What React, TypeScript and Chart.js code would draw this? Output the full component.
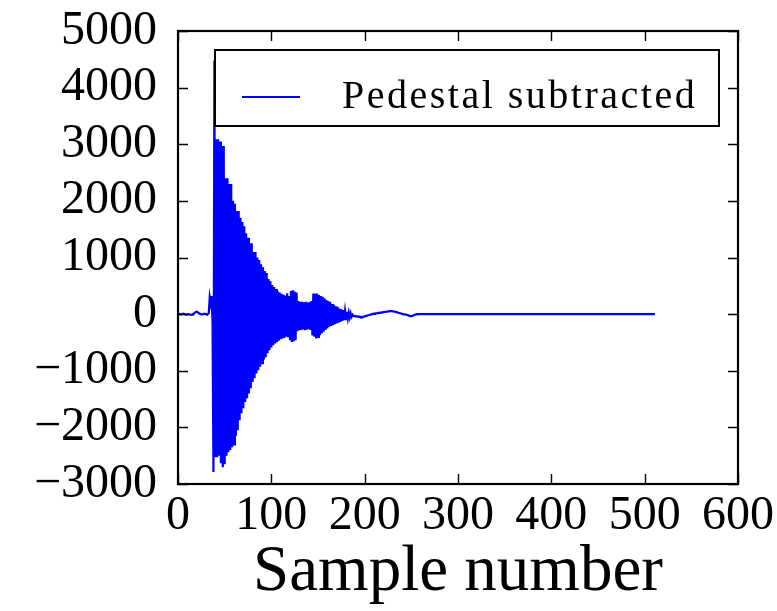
import React, { useEffect, useRef } from "react";
import { Chart, registerables } from "chart.js";

Chart.register(...registerables);

// ---- data ----
const seriesLabel = "Pedestal subtracted";
const xTitle = "Sample number";

// samples 0..33 (before the trigger)
const preTrigger = [
  0, 5, 3, -3, 0, 5, 8, 3, -5, -8, -5, 0, -3, -12, -15, -8, 0, 10, 25, 40,
  45, 35, 20, 10, 0, -5, -3, 0, 5, 3, 0, -5, 0, 20,
];

// samples 34..186 (ring-down)
const ringdown = [
  300, 200, 320, -150, -2790, 4480,
  -2527, 3090, -2527, 3090, -2500, 3050, -2633, 2970, -2703, 2970,
  -2650, 2400, -2500, 2400, -2438, 2300, -2400, 2300, -2350, 2000,
  -2300, 1950, -2150, 1820, -2049, 1820, -1873, 1700, -1750, 1625,
  -1661, 1550, -1550, 1430, -1484, 1350, -1400, 1250, -1307, 1250,
  -1200, 1095, -1131, 1095, -1050, 1000, -989, 954, -930, 880,
  -866, 830, -800, 760, -760, 724, -690, 618, -636, 580,
  -590, 512, -548, 480, -520, 442, -495, 400, -470, 380,
  -442, 360, -430, 340, -420, 330, -400, 370, -410, 320,
  -440, 410, -490, 420, -480, 400, -460, 380, -300, 230,
  -283, 220, -280, 217, -270, 210, -283, 217, -275, 205,
  -265, 215, -280, 230, -375, 365, -401, 365, -430, 365,
  -400, 336, -371, 320, -340, 306, -312, 280, -280, 247,
  -253, 230, -224, 217, -210, 180, -194, 159, -180, 140,
  -165, 129, -150, 100, -136, 85, -120, 71, -106, 55,
  -90, 41, -77, 25, -60, 12, -47,
];

// samples 187..256 (slow baseline drift)
const baselineDrift = [
  -10, -30, -35, -40, -35, -45, -40, -50, -45, -55, -50, -55, -45, -40, -35, -30,
  -25, -20, -15, -10, -5, 0, 5, 10, 8, 15, 12, 20, 18, 25, 22, 30, 28, 35, 38, 40,
  42, 45, 48, 50, 52, 53, 52, 50, 48, 45, 40, 35, 30, 25, 20, 15, 10, 5, 0, -3,
  -5, -8, -12, -18, -25, -30, -35, -35, -30, -25, -15, -8, -3, 0,
];

// flat tail
const tailSamples = [300, 350, 400, 450, 511];
const tailValues = [0, 0, 0, 0, 0];

const xMin = 0;
const xMax = 600;
const xStep = 100;
const yMin = -3000;
const yMax = 5000;
const yStep = 1000;

const SERIF = "'Liberation Serif', 'Times New Roman', serif";

function buildPoints() {
  const head = [...preTrigger, ...ringdown, ...baselineDrift];
  const pts = head.map((v, i) => ({ x: i, y: v }));
  tailSamples.forEach((s, i) => pts.push({ x: s, y: tailValues[i] }));
  return pts;
}

const framePlugin = {
  id: "frameTicks",
  afterDatasetsDraw(chart: any) {
    const { ctx, chartArea: a, scales } = chart;
    const tl = 10;
    ctx.save();
    ctx.strokeStyle = "#000";
    ctx.lineWidth = 1.4;
    ctx.beginPath();
    scales.x.ticks.forEach((t: any) => {
      const px = Math.round(scales.x.getPixelForValue(t.value)) + 0.5;
      ctx.moveTo(px, a.bottom);
      ctx.lineTo(px, a.bottom - tl);
      ctx.moveTo(px, a.top);
      ctx.lineTo(px, a.top + tl);
    });
    scales.y.ticks.forEach((t: any) => {
      const py = Math.round(scales.y.getPixelForValue(t.value)) + 0.5;
      ctx.moveTo(a.left, py);
      ctx.lineTo(a.left + tl, py);
      ctx.moveTo(a.right, py);
      ctx.lineTo(a.right - tl, py);
    });
    ctx.stroke();
    ctx.lineWidth = 2.2;
    ctx.strokeRect(a.left, a.top, a.right - a.left, a.bottom - a.top);
    ctx.restore();
  },
};

const legendPlugin = {
  id: "boxedLegend",
  afterDraw(chart: any) {
    const { ctx, chartArea: a } = chart;
    const ds = chart.data.datasets[0];
    const left = a.left + 37;
    const top = a.top + 19;
    const right = a.right - 19;
    const bottom = a.top + 95;
    const midY = a.top + 66;
    ctx.save();
    ctx.fillStyle = "#fff";
    ctx.fillRect(left, top, right - left, bottom - top);
    ctx.strokeStyle = "#000";
    ctx.lineWidth = 2;
    ctx.strokeRect(left, top, right - left, bottom - top);
    ctx.strokeStyle = ds.borderColor;
    ctx.lineWidth = 2;
    ctx.beginPath();
    ctx.moveTo(left + 27, midY);
    ctx.lineTo(left + 85, midY);
    ctx.stroke();
    ctx.fillStyle = "#000";
    ctx.font = `40px ${SERIF}`;
    (ctx as any).letterSpacing = "2.5px";
    ctx.textBaseline = "middle";
    ctx.textAlign = "left";
    ctx.fillText(ds.label, a.left + 164, midY);
    ctx.restore();
  },
};

export default function App() {
  const ref = useRef<HTMLCanvasElement | null>(null);

  useEffect(() => {
    if (!ref.current) return;
    const chart = new Chart(ref.current, {
      type: "line",
      data: {
        datasets: [
          {
            label: seriesLabel,
            data: buildPoints(),
            borderColor: "#0000ff",
            borderWidth: 2.2,
            pointRadius: 0,
            tension: 0,
            fill: false,
          },
        ],
      },
      options: {
        animation: false,
        responsive: false,
        devicePixelRatio: 1,
        layout: { padding: { left: 0, top: 31, right: 39, bottom: 0 } },
        plugins: {
          legend: { display: false },
          tooltip: { enabled: false },
        },
        scales: {
          x: {
            type: "linear",
            min: xMin,
            max: xMax,
            grid: { display: false, drawTicks: false },
            border: { display: false },
            ticks: {
              stepSize: xStep,
              color: "#000",
              font: { family: SERIF, size: 48 },
              padding: 4,
              maxRotation: 0,
              autoSkip: false,
              callback: (v: any) => String(v),
            },
            title: {
              display: true,
              text: xTitle,
              color: "#000",
              font: { family: SERIF, size: 65, lineHeight: 1 },
              padding: { top: 0, bottom: 6 },
            },
            afterFit: (s: any) => {
              s.height = 127;
              s.paddingLeft = 0;
              s.paddingRight = 0;
            },
          },
          y: {
            type: "linear",
            min: yMin,
            max: yMax,
            grid: { display: false, drawTicks: false },
            border: { display: false },
            ticks: {
              stepSize: yStep,
              color: "#000",
              font: { family: SERIF, size: 48, lineHeight: 1 },
              padding: 21,
              autoSkip: false,
              callback: (v: any) =>
                v < 0 ? "\u2212" + String(Math.abs(v)) : String(v),
            },
            afterFit: (s: any) => {
              s.width = 178;
              s.paddingTop = 0;
              s.paddingBottom = 0;
            },
          },
        },
      },
      plugins: [framePlugin, legendPlugin],
    });
    return () => chart.destroy();
  }, []);

  return (
    <div style={{ position: "fixed", left: 0, top: 0, width: 777, height: 611, background: "#fff" }}>
      <canvas ref={ref} width={777} height={611} style={{ display: "block" }} />
    </div>
  );
}
